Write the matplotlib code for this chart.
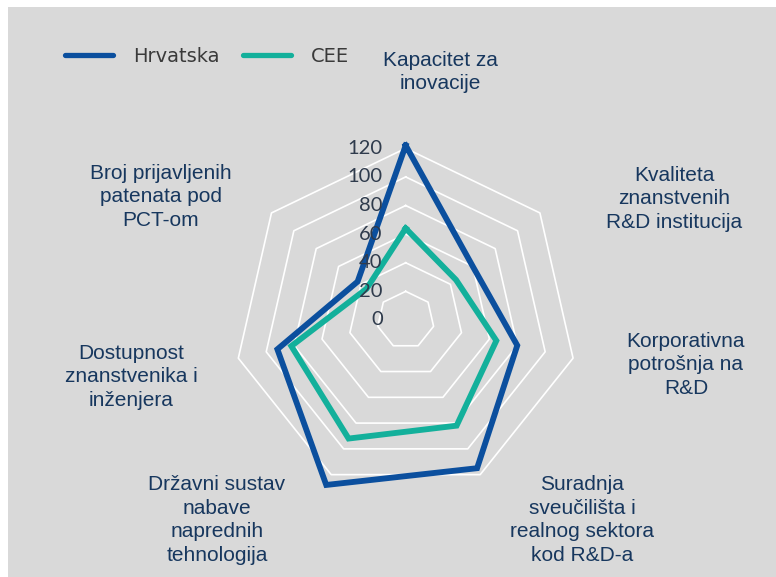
import numpy as np
import matplotlib.pyplot as plt
from matplotlib.patches import Rectangle
from matplotlib.lines import Line2D

# data
categories = [
    "Kapacitet za\ninovacije",
    "Kvaliteta\nznanstvenih\nR&D institucija",
    "Korporativna\npotrošnja na\nR&D",
    "Suradnja\nsveučilišta i\nrealnog sektora\nkod R&D-a",
    "Državni sustav\nnabave\nnaprednih\ntehnologija",
    "Dostupnost\nznanstvenika i\ninženjera",
    "Broj prijavljenih\npatenata pod\nPCT-om",
]
hrvatska = [122, 60, 80, 115, 128, 92, 43]
cee = [64, 45, 65, 82, 92, 82, 35]
ring_values = [0, 20, 40, 60, 80, 100, 120]

# label centres in pixels (layout only)
label_pos = [(440, 72), (674, 199), (686, 365), (582, 520),
             (217, 520), (131, 377), (161, 197)]

W, H = 776, 577
bg = '#d9d9d9'
blue = '#0b4f9e'
green = '#13b09b'
navy = '#17375e'

fig = plt.figure(figsize=(W / 100, H / 100), dpi=100)
fig.add_artist(Rectangle((8 / W, 0), 1, 1 - 7 / H, transform=fig.transFigure,
                         facecolor=bg, edgecolor='none', zorder=-10))

ax = fig.add_axes([0.2647, 0.0983, 0.5162, 0.6943], projection='polar')
ax.set_theta_offset(np.pi / 2)
ax.set_theta_direction(-1)
ax.set_ylim(0, 140)
ax.axis('off')

theta = np.linspace(0, 2 * np.pi, len(categories), endpoint=False)
theta_c = np.append(theta, theta[0])

for v in ring_values[1:]:
    ax.plot(theta_c, [v] * len(theta_c), color='white', lw=1.2, zorder=1)

for vals, col in [(cee, green), (hrvatska, blue)]:
    ax.plot(theta_c, vals + vals[:1], color=col, lw=4.2,
            solid_joinstyle='miter', zorder=3)

for v in ring_values:
    ax.annotate(str(v), xy=(0, v), xytext=(-23, 0), textcoords='offset pixels',
                ha='right', va='center', fontsize=14.5, color='#2f3b4c',
                family='Lato', zorder=4)

for (px, py), lab in zip(label_pos, categories):
    fig.text(px / W, 1 - py / H, lab, ha='center', va='center', fontsize=15,
             color=navy, family='Liberation Sans', linespacing=1.33)

handles = [Line2D([], [], color=blue, lw=3.8, solid_capstyle='round'),
           Line2D([], [], color=green, lw=3.8, solid_capstyle='round')]
fig.legend(handles, ['Hrvatska', 'CEE'], loc='center left',
           bbox_to_anchor=(55 / W, 1 - 56 / H), ncol=2, frameon=False,
           fontsize=14, handlelength=2.5, handletextpad=1.0,
           columnspacing=1.2, borderpad=0, labelcolor='#3a3a3a')

fig.savefig('out.png', dpi=100)
